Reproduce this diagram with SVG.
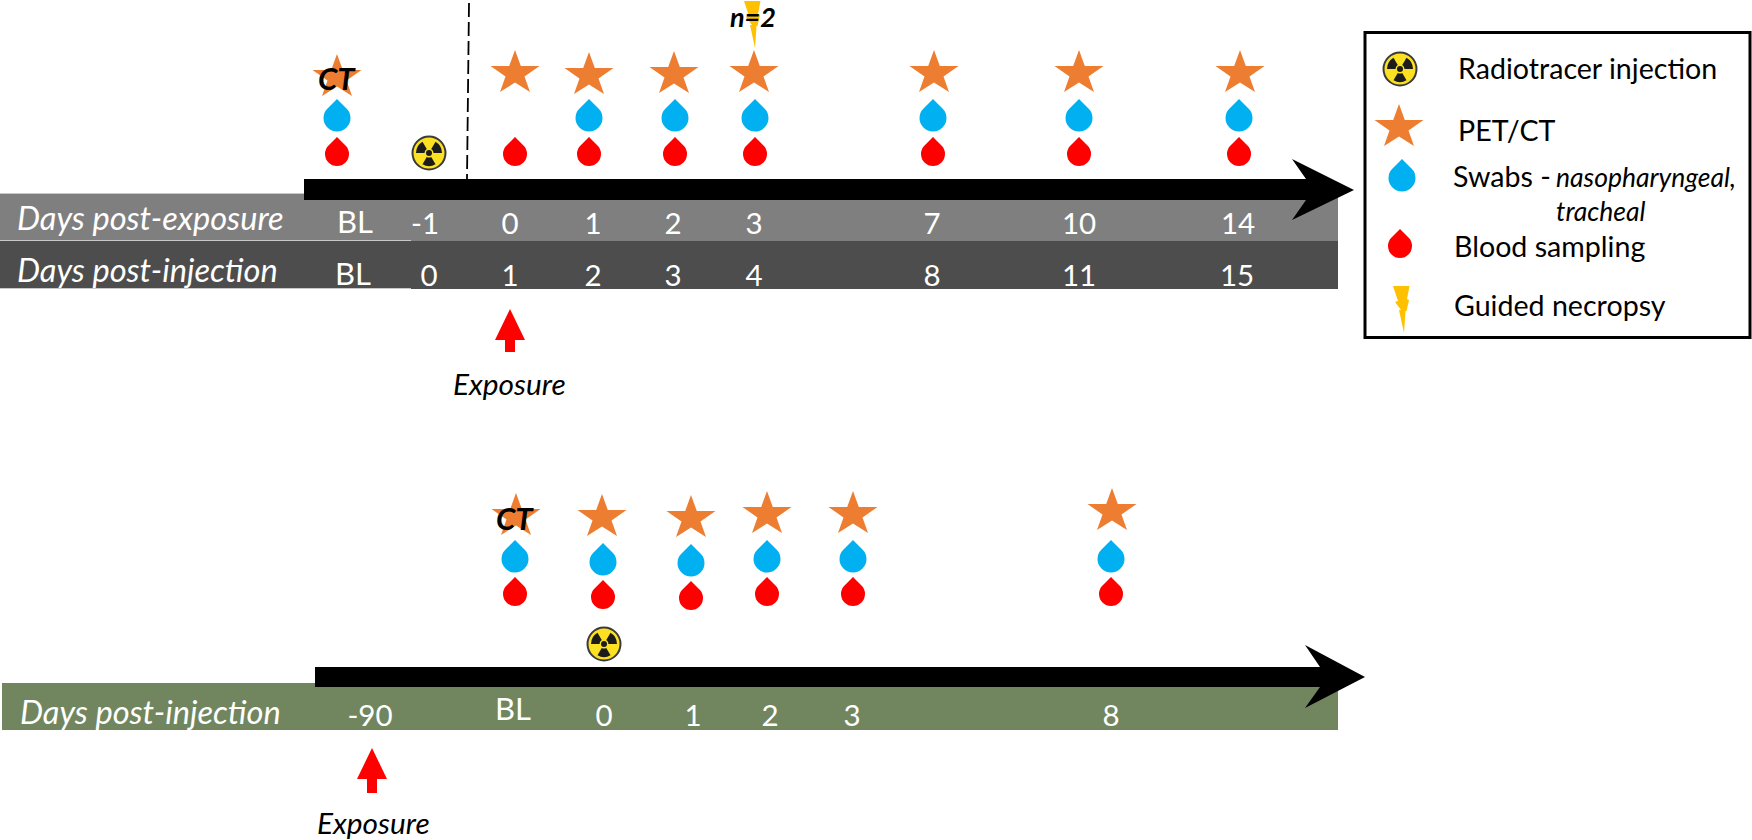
<svg xmlns="http://www.w3.org/2000/svg" xmlns:xlink="http://www.w3.org/1999/xlink" width="1752" height="840" viewBox="0 0 1752 840">
<style>
text{font-family:"Lato","Open Sans","Liberation Sans",sans-serif}
.w{fill:#fff;font-size:29.5px}
.bl{font-size:31px}
.m{text-anchor:middle}
.l{fill:#fff;font-size:32.6px;font-style:italic}
.k{fill:#000;font-size:28.6px}
.t{font-size:26.5px;font-style:italic}
.e{fill:#000;font-size:29.8px;font-style:italic}
.b{fill:#000;font-weight:700;font-style:italic;font-size:31px}
.n{font-size:27px}
.ax{fill:#000}
.exp{fill:#f00}
</style>
<defs>
<polygon id="star" fill="#ed7d31" points="0,0 5.8,16 24.5,16 9.5,26.5 15,42 0,32.5 -15,42 -9.5,26.5 -24.5,16 -5.8,16"/>
<path id="blue" fill="#00b0f0" d="M0 0L9.500 9.500A13.500 13.500 0 1 1-9.500 9.500Z"/>
<path id="red" fill="#f00" d="M0 0L8.500 8.500A12 12 0 1 1-8.500 8.500Z"/>
<polygon id="bolt" fill="#ffc000" points="0,0 16.5,0 14,13 16,14 13.5,25 12.5,25 11,47 6,24 8,24 2,16 5,15"/>
<g id="rad">
<circle r="16.5" fill="#fbe122" stroke="#3a3a3a" stroke-width="2"/>
<path id="blade" fill="#1c1c1c" d="M-2.25 3.9L-6.5 11.26A13 13 0 0 0 6.5 11.26L2.25 3.9A4.5 4.5 0 0 1-2.25 3.9Z"/>
<use xlink:href="#blade" href="#blade" transform="rotate(120)"/>
<use xlink:href="#blade" href="#blade" transform="rotate(240)"/>
<circle r="3" fill="#1c1c1c"/>
</g>
</defs>

<g id="band-top">
<rect x="0" y="193" width="1338" height="48" fill="#7f7f7f"/>
<rect x="0" y="241" width="1338" height="48" fill="#4d4d4d"/>
<path d="M0 193.500H304M0 240.500H411M0 288.500H411" stroke="#c8c8c8" stroke-width="1" fill="none"/>
<text class="l" x="17" y="230">Days post-exposure</text>
<text class="l" x="17" y="282">Days post-injection</text>
<text class="w bl m" x="355" y="233">BL</text><text class="w m" x="425" y="234">-1</text><text class="w m" x="510" y="234">0</text><text class="w m" x="593" y="234">1</text><text class="w m" x="673" y="234">2</text><text class="w m" x="754" y="234">3</text><text class="w m" x="932" y="234">7</text><text class="w m" x="1079" y="234">10</text><text class="w m" x="1238" y="234">14</text>
<text class="w bl m" x="353" y="285">BL</text><text class="w m" x="429" y="286">0</text><text class="w m" x="510" y="286">1</text><text class="w m" x="593" y="286">2</text><text class="w m" x="673" y="286">3</text><text class="w m" x="754" y="286">4</text><text class="w m" x="932" y="286">8</text><text class="w m" x="1079" y="286">11</text><text class="w m" x="1237" y="286">15</text>
</g>
<g id="band-bottom">
<rect x="2" y="683" width="1336" height="47" fill="#71865f"/>
<text class="l" x="20" y="724">Days post-injection</text>
<text class="w m" x="370" y="726">-90</text><text class="w bl m" x="513" y="720">BL</text><text class="w m" x="604" y="726">0</text><text class="w m" x="693" y="726">1</text><text class="w m" x="770" y="726">2</text><text class="w m" x="852" y="726">3</text><text class="w m" x="1111" y="726">8</text>
</g>

<g id="connectors">
<path id="divider" d="M469 3L467 179" stroke="#000" stroke-width="1.800" stroke-dasharray="14 5" fill="none"/>
<polygon id="timeline-top" class="ax" points="304,179 1306,179 1292,159 1354,190 1292,220 1306,200 304,200"/>
<polygon id="timeline-bottom" class="ax" points="315,667 1320,667 1305,645 1365,677 1305,708 1320,687 315,687"/>
<polygon id="exposure-arrow-top" class="exp" points="510,309 525,340 515,340 515,352 505,352 505,340 495,340"/>
<polygon id="exposure-arrow-bottom" class="exp" points="372,748 387,779 377,779 377,793 367,793 367,779 357,779"/>
</g>

<g id="events-top">
<use href="#star" x="337" y="54"/><use href="#blue" x="337" y="99"/><use href="#red" x="337" y="137"/>
<use href="#rad" x="429" y="153"/>
<use href="#star" x="515" y="50"/><use href="#red" x="515" y="137"/>
<use href="#star" x="589" y="52"/><use href="#blue" x="589" y="99"/><use href="#red" x="589" y="137"/>
<use href="#star" x="674" y="51"/><use href="#blue" x="675" y="99"/><use href="#red" x="675" y="137"/>
<use href="#bolt" x="744" y="1"/>
<use href="#star" x="754" y="50"/><use href="#blue" x="755" y="99"/><use href="#red" x="755" y="137"/>
<use href="#star" x="934" y="50"/><use href="#blue" x="933" y="99"/><use href="#red" x="933" y="137"/>
<use href="#star" x="1079" y="50"/><use href="#blue" x="1079" y="99"/><use href="#red" x="1079" y="137"/>
<use href="#star" x="1240" y="50"/><use href="#blue" x="1239" y="99"/><use href="#red" x="1239" y="137"/>
<text class="b" x="318" y="90">CT</text>
<text class="b n" x="730" y="26.500">n=2</text>
<text class="e" x="453" y="395">Exposure</text>
</g>

<g id="events-bottom">
<use href="#star" x="516" y="493"/><use href="#blue" x="515" y="540"/><use href="#red" x="515" y="577"/>
<use href="#star" x="602" y="494"/><use href="#blue" x="603" y="543"/><use href="#red" x="603" y="580"/>
<use href="#rad" x="604" y="644"/>
<use href="#star" x="691" y="495"/><use href="#blue" x="691" y="544"/><use href="#red" x="691" y="581"/>
<use href="#star" x="767" y="491"/><use href="#blue" x="767" y="540"/><use href="#red" x="767" y="577"/>
<use href="#star" x="853" y="491"/><use href="#blue" x="853" y="540"/><use href="#red" x="853" y="577"/>
<use href="#star" x="1112" y="488"/><use href="#blue" x="1111" y="540"/><use href="#red" x="1111" y="577"/>
<text class="b" x="496" y="530">CT</text>
<text class="e" x="317" y="834">Exposure</text>
</g>

<g id="legend">
<rect x="1365" y="32.500" width="385" height="305" fill="#fff" stroke="#000" stroke-width="3"/>
<use href="#rad" x="1400" y="69"/>
<use href="#star" x="1399" y="104"/>
<use href="#blue" x="1402" y="159"/>
<use href="#red" x="1400" y="229"/>
<use href="#bolt" x="1393" y="286"/>
<text class="k" x="1458" y="79">Radiotracer injection</text>
<text class="k" x="1458" y="141">PET/CT</text>
<text class="k" x="1453" y="187">Swabs - </text>
<text class="k t" x="1556" y="187">nasopharyngeal,</text>
<text class="k t" x="1556" y="221">tracheal</text>
<text class="k" x="1454" y="257">Blood sampling</text>
<text class="k" x="1454" y="316">Guided necropsy</text>
</g>
</svg>
